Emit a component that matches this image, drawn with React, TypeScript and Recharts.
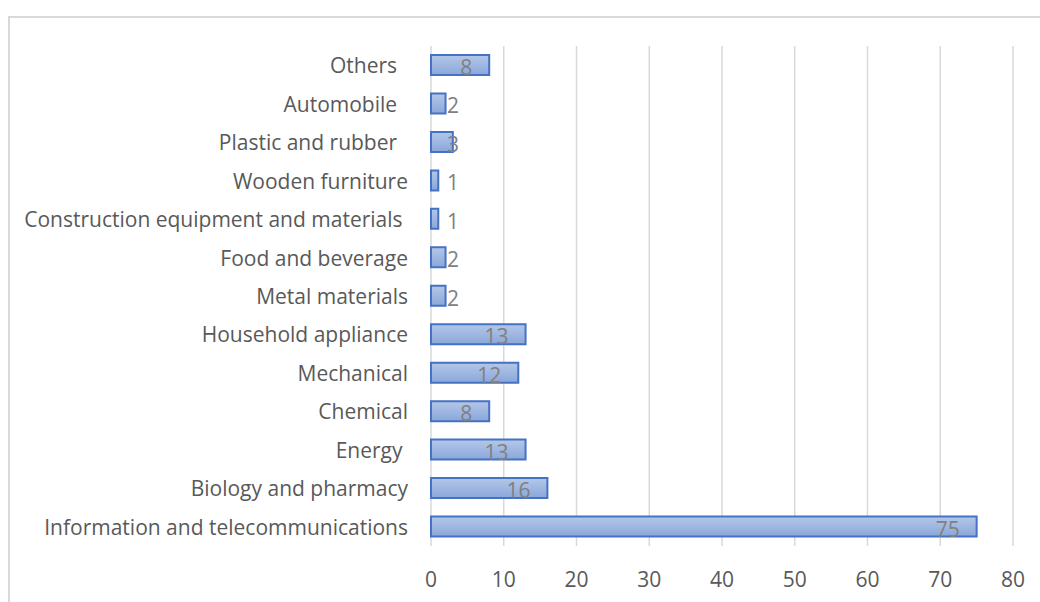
import { BarChart, Bar, XAxis, YAxis, CartesianGrid, LabelList } from 'recharts';

// Industries, listed top to bottom as drawn
const industries = [
    'Others  ',
    'Automobile  ',
    'Plastic and rubber  ',
    'Wooden furniture',
    'Construction equipment and materials ',
    'Food and beverage',
    'Metal materials',
    'Household appliance',
    'Mechanical',
    'Chemical',
    'Energy ',
    'Biology and pharmacy',
    'Information and telecommunications',
];

const counts = [8, 2, 3, 1, 1, 2, 2, 13, 12, 8, 13, 16, 75];

const xTicks = [0, 10, 20, 30, 40, 50, 60, 70, 80];

const data = industries.map((name, i) => ({ name, value: counts[i] }));

const FONT = '"Open Sans", sans-serif';

const CategoryTick = ({ x, y, payload }: any) => (
    <text
        x={x - 15}
        y={y}
        textAnchor="end"
        dominantBaseline="central"
        fill="#595959"
        fontSize={21}
        fontFamily={FONT}
        style={{ whiteSpace: 'pre' }}
    >
        {payload.value}
    </text>
);

// Excel style "inside end" labels, pushed right when the bar is too short
const ValueLabel = ({ x, y, width, height, value }: any) => {
    const labelW = String(value).length * 12;
    let left = x + width - 17 - labelW;
    if (left < x + 16) left = x + 16;
    return (
        <text
            x={left}
            y={y + height / 2 + 2}
            textAnchor="start"
            dominantBaseline="central"
            fill="#808080"
            fontSize={21}
            fontFamily={FONT}
        >
            {value}
        </text>
    );
};

export default function App() {
    return (
        <div
            style={{
                position: 'fixed',
                left: 0,
                top: 0,
                width: 1040,
                height: 602,
                overflow: 'hidden',
                background: '#fff',
            }}
        >
            <div
                style={{
                    position: 'absolute',
                    left: 8,
                    top: 16,
                    width: 1200,
                    height: 800,
                    borderLeft: '2px solid #d9d9d9',
                    borderTop: '2px solid #d9d9d9',
                }}
            />
            <div style={{ position: 'absolute', left: 0, top: 0 }}>
                <BarChart
                    width={1040}
                    height={602}
                    data={data}
                    layout="vertical"
                    margin={{ top: 46, right: 27, bottom: 0, left: 0 }}
                    barSize={20}
                >
                    <defs>
                        <linearGradient id="barFill" x1="0" y1="0" x2="0" y2="1">
                            <stop offset="0%" stopColor="#b4c7e8" />
                            <stop offset="100%" stopColor="#8aa7da" />
                        </linearGradient>
                    </defs>
                    <CartesianGrid
                        horizontal={false}
                        stroke="#d9d9d9"
                        strokeWidth={1.5}
                    />
                    <XAxis
                        type="number"
                        domain={[0, 80]}
                        ticks={xTicks}
                        axisLine={false}
                        tickLine={false}
                        height={56}
                        tickMargin={20}
                        tick={{ fill: '#595959', fontSize: 21, fontFamily: FONT }}
                    />
                    <YAxis
                        type="category"
                        dataKey="name"
                        width={431}
                        axisLine={false}
                        tickLine={false}
                        tick={<CategoryTick />}
                        interval={0}
                    />
                    <Bar
                        dataKey="value"
                        fill="url(#barFill)"
                        stroke="#4472c4"
                        strokeWidth={2}
                        isAnimationActive={false}
                    >
                        <LabelList dataKey="value" content={<ValueLabel />} />
                    </Bar>
                </BarChart>
            </div>
        </div>
    );
}
